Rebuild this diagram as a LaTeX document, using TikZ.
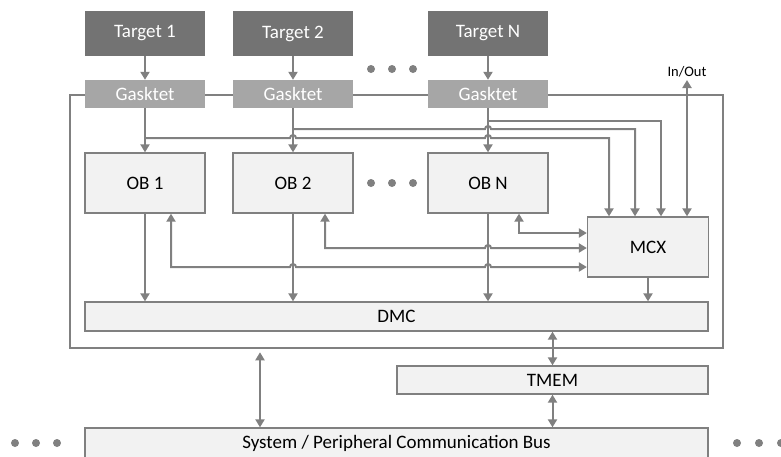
\documentclass[tikz,border=0pt]{standalone}
\usepackage{fontspec}
\setmainfont{Carlito}
\usetikzlibrary{arrows.meta,calc}
\tikzset{
	box/.style={draw=black!50, line width=1.3pt, fill=black!5, inner sep=0pt, font=\fontsize{19}{22}\selectfont},
	target/.style={fill=black!55, text=white, minimum width=120, minimum height=45, inner sep=0pt, font=\fontsize{19}{22}\selectfont},
	gasket/.style={fill=black!35, text=white, minimum width=120, minimum height=28, inner sep=0pt, font=\fontsize{19}{22}\selectfont},
	wire/.style={draw=black!50, line width=2pt},
	arr/.style={-{Triangle[length=8pt,width=9pt]}},
	arr2/.style={{Triangle[length=8pt,width=9pt]}-{Triangle[length=8pt,width=9pt]}},
	dot/.style={fill=black!50}
}

\begin{document}
\begin{tikzpicture}[x=1pt, y=-1pt]
			%%%%% START %%%%%
			\useasboundingbox (0,0) rectangle (781,456);
			
			\node[draw=black!50, line width=2.5pt, minimum width=653, minimum height=253, inner sep=0pt] (ctrl) at (396.5,221.5) {};
			
			\node[target] (t1) at (145,33.5) {Target 1};
			\node[target] (t2) at (293,33.5) {Target 2};
			\node[target] (tn) at (488,33.5) {Target N};
			
			\node[gasket] (g1) at (145,94) {Gasktet};
			\node[gasket] (g2) at (293,94) {Gasktet};
			\node[gasket] (gn) at (488,94) {Gasktet};
			
			\node[box, minimum width=120, minimum height=60] (ob1) at (145,183) {OB 1};
			\node[box, minimum width=120, minimum height=60] (ob2) at (293,183) {OB 2};
			\node[box, minimum width=120, minimum height=60] (obn) at (488,183) {OB N};
			\node[box, minimum width=121, minimum height=60] (mcx) at (648,247) {MCX};
			
			\node[box, minimum width=623, minimum height=29] (dmc) at (396.5,316.5) {DMC};
			\node[box, minimum width=311, minimum height=28] (tmem) at (552.5,380) {TMEM};
			\node[box, minimum width=623, minimum height=30] (bus) at (396.5,443) {System / Peripheral Communication Bus};
			
			\node[anchor=south, inner sep=3pt, font=\fontsize{14.5}{16}\selectfont] (io) at (687,80) {In/Out};
			
			% targets and gaskets
			\draw[wire,arr] (t1) -- (g1);
			\draw[wire,arr] (t2) -- (g2);
			\draw[wire,arr] (tn) -- (gn);
			\draw[wire,arr] (g1) -- (ob1);
			\draw[wire,arr] (g2) -- (ob2);
			\draw[wire,arr] (gn) -- (obn);
			
			% gaskets to MCX
			\draw[wire,arr] (g1 |- 0,138) -- ($(g2 |- 0,138)+(-3,0)$) arc (180:360:3) -- ($(gn |- 0,138)+(-3,0)$) arc (180:360:3) -- ([xshift=-39]mcx.north |- 0,138) -- ([xshift=-39]mcx.north);
			\draw[wire,arr] (g2 |- 0,129) -- ($(gn |- 0,129)+(-3,0)$) arc (180:360:3) -- ([xshift=-13]mcx.north |- 0,129) -- ([xshift=-13]mcx.north);
			\draw[wire,arr] (gn |- 0,121) -- ([xshift=13]mcx.north |- 0,121) -- ([xshift=13]mcx.north);
			\draw[wire,arr2] ([xshift=39]mcx.north) -- (io.south);
			
			% buffers to DMC
			\draw[wire,arr] (ob1) -- (ob1 |- dmc.north);
			\draw[wire,arr] (ob2) -- (ob2 |- dmc.north);
			\draw[wire,arr] (obn) -- (obn |- dmc.north);
			\draw[wire,arr] (mcx) -- (mcx |- dmc.north);
			
			% MCX back to buffers
			\draw[wire,arr2] ([xshift=26]ob1.south) -- ([xshift=26]ob1.south |- 0,267) -- ($(ob2 |- 0,267)+(-3,0)$) arc (180:360:3) -- ($(obn |- 0,267)+(-3,0)$) arc (180:360:3) -- (mcx.west |- 0,267);
			\draw[wire,arr2] ([xshift=32]ob2.south) -- ([xshift=32]ob2.south |- 0,248) -- ($(obn |- 0,248)+(-3,0)$) arc (180:360:3) -- (mcx.west |- 0,248);
			\draw[wire,arr2] ([xshift=31]obn.south) -- ([xshift=31]obn.south |- 0,233) -- (mcx.west |- 0,233);
			
			% memory and bus
			\draw[wire,arr2] (dmc.south -| tmem) -- (tmem.north);
			\draw[wire,arr2] (tmem.south) -- (bus.north -| tmem);
			\draw[wire,arr2, shorten <=3pt] (ctrl.south -| 260,0) -- (bus.north -| 260,0);
			
			% dots
			\foreach \x in {371,392,413} {
				\fill[dot] (\x,69) circle (4);
				\fill[dot] (\x,183) circle (4);
			}
			\foreach \x in {15,36,57,737,759,781}
				\fill[dot] (\x,443) circle (4);
			
			%%%%% END %%%%%
\end{tikzpicture}
\end{document}
